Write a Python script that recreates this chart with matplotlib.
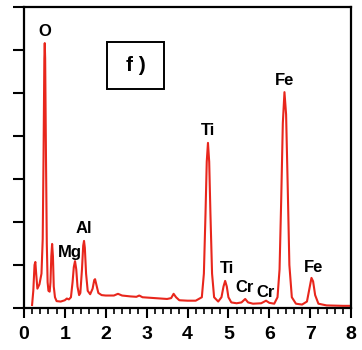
import matplotlib.pyplot as plt
from matplotlib.patches import Rectangle
from matplotlib.ticker import MultipleLocator, NullFormatter

# EDS spectrum: energy (keV) vs counts (arbitrary units)
energy = [0.20, 0.23, 0.26, 0.28, 0.30, 0.33, 0.38, 0.43, 0.46, 0.48,
          0.50, 0.51, 0.52, 0.54, 0.56, 0.58, 0.60, 0.63, 0.65, 0.67,
          0.69, 0.71, 0.73, 0.76, 0.80, 0.90, 1.00, 1.05, 1.10, 1.15,
          1.19, 1.22, 1.25, 1.28, 1.31, 1.35, 1.38, 1.42, 1.45, 1.47,
          1.49, 1.52, 1.56, 1.62, 1.68, 1.72, 1.74, 1.77, 1.82, 1.90,
          2.00, 2.20, 2.30, 2.40, 2.60, 2.75, 2.82, 2.90, 3.20, 3.50,
          3.60, 3.66, 3.72, 3.80, 4.00, 4.20, 4.35, 4.40, 4.44, 4.47,
          4.50, 4.53, 4.56, 4.60, 4.65, 4.75, 4.83, 4.88, 4.92, 4.96,
          5.00, 5.07, 5.20, 5.32, 5.41, 5.48, 5.60, 5.80, 5.92, 6.00,
          6.12, 6.20, 6.25, 6.29, 6.33, 6.37, 6.41, 6.45, 6.49, 6.55,
          6.65, 6.80, 6.92, 6.98, 7.03, 7.07, 7.12, 7.20, 7.40, 7.80,
          8.00]
counts = [0.07, 0.40, 1.00, 1.07, 0.80, 0.45, 0.55, 0.80, 1.60, 3.50,
          5.80, 6.16, 5.80, 3.50, 1.50, 0.60, 0.40, 0.38, 0.60, 1.20,
          1.49, 1.20, 0.50, 0.25, 0.16, 0.15, 0.18, 0.22, 0.20, 0.25,
          0.60, 0.95, 1.09, 0.90, 0.50, 0.30, 0.35, 0.90, 1.45, 1.56,
          1.40, 0.80, 0.40, 0.32, 0.45, 0.65, 0.67, 0.55, 0.35, 0.30,
          0.29, 0.29, 0.33, 0.29, 0.27, 0.26, 0.29, 0.25, 0.23, 0.21,
          0.23, 0.33, 0.25, 0.18, 0.17, 0.17, 0.25, 0.80, 2.20, 3.40,
          3.84, 3.40, 2.20, 0.80, 0.25, 0.15, 0.25, 0.50, 0.63, 0.50,
          0.25, 0.13, 0.11, 0.13, 0.21, 0.13, 0.10, 0.11, 0.17, 0.12,
          0.10, 0.25, 0.90, 2.50, 4.30, 5.02, 4.50, 2.80, 1.00, 0.25,
          0.10, 0.08, 0.15, 0.45, 0.70, 0.62, 0.30, 0.10, 0.06, 0.05,
          0.05]

# element labels and their anchor points
elements = ['O', 'Fe', 'Ti', 'Al', 'Mg', 'Ti', 'Cr', 'Cr', 'Fe']
label_x = [0.51, 6.38, 4.50, 1.47, 1.12, 4.96, 5.40, 5.92, 7.09]
label_y = [6.44, 5.28, 4.12, 1.86, 1.30, 0.93, 0.47, 0.37, 0.95]

plt.rcParams['font.family'] = ['Liberation Sans', 'DejaVu Sans']

fig = plt.figure(figsize=(3.62, 3.5), dpi=100)
ax = fig.add_axes([0.066, 0.12, 0.904, 0.86])

ax.plot(energy, counts, color='#e8261c', linewidth=1.5)

for name, x, y in zip(elements, label_x, label_y):
    ax.text(x, y, name, ha='center', va='center', fontsize=12,
            fontweight='bold')

# panel tag in a box
ax.add_patch(Rectangle((0.254, 0.728), 0.174, 0.156, transform=ax.transAxes,
                       facecolor='white', edgecolor='black', linewidth=1.4))
ax.text(0.341, 0.806, 'f )', transform=ax.transAxes, ha='center',
        va='center', fontsize=15, fontweight='bold')

ax.set_xlim(0, 8)
ax.set_ylim(0, 7)
ax.xaxis.set_major_locator(MultipleLocator(1))
ax.xaxis.set_minor_locator(MultipleLocator(0.2))
ax.yaxis.set_major_locator(MultipleLocator(1))
ax.yaxis.set_major_formatter(NullFormatter())
ax.tick_params(axis='x', which='major', length=7, width=1.5,
               labelsize=14, pad=6)
ax.tick_params(axis='x', which='minor', length=4, width=1.2)
ax.tick_params(axis='y', which='major', length=8, width=1.5)
for lbl in ax.get_xticklabels():
    lbl.set_fontweight('bold')
for sp in ax.spines.values():
    sp.set_linewidth(1.6)

plt.savefig('out.png', dpi=100)
